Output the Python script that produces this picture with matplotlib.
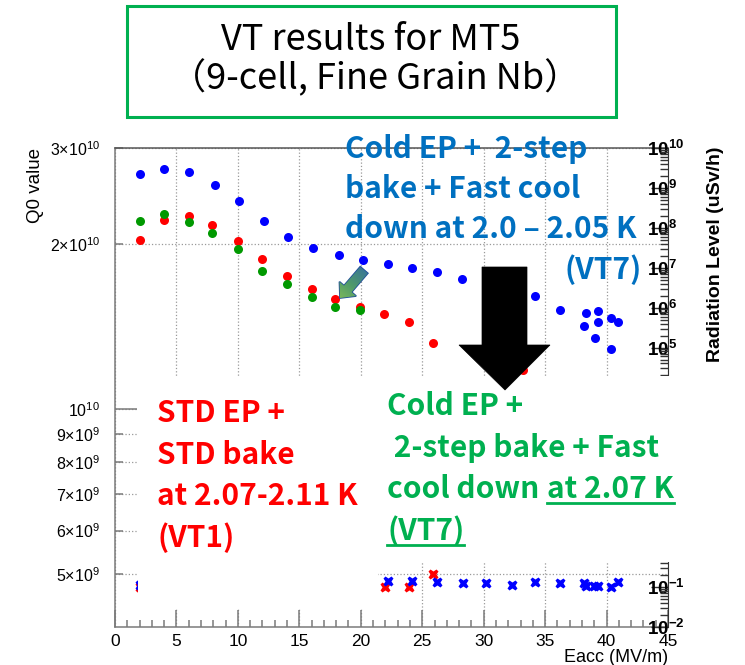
import numpy as np
import matplotlib
matplotlib.use('Agg')
import matplotlib.pyplot as plt
from matplotlib.ticker import FixedLocator, FixedFormatter, LogLocator, MultipleLocator, NullFormatter
from matplotlib.patches import Rectangle, Polygon
from matplotlib.colors import LinearSegmentedColormap

plt.rcParams['font.family'] = ['Liberation Sans', 'DejaVu Sans']
plt.rcParams['mathtext.fontset'] = 'custom'
plt.rcParams['mathtext.rm'] = 'Liberation Sans'
plt.rcParams['mathtext.it'] = 'Liberation Sans:italic'
plt.rcParams['mathtext.bf'] = 'Liberation Sans:bold'

# Q0 vs Eacc (MV/m)
eacc_vt1 = [2.0, 4.0, 6.0, 7.9, 10.0, 12.0, 14.0, 16.0, 17.9, 19.9, 21.9, 23.9, 25.9, 33.2]
q0_vt1 = [2.04e10, 2.22e10, 2.25e10, 2.17e10, 2.03e10, 1.88e10, 1.75e10, 1.66e10,
          1.59e10, 1.54e10, 1.49e10, 1.44e10, 1.32e10, 1.18e10]

eacc_vt7_207 = [2.0, 4.0, 6.0, 7.9, 10.0, 12.0, 14.0, 16.0, 17.9, 19.9]
q0_vt7_207 = [2.21e10, 2.27e10, 2.20e10, 2.10e10, 1.96e10, 1.79e10, 1.69e10, 1.60e10,
              1.54e10, 1.515e10]

eacc_vt7_200 = [2.0, 4.0, 6.0, 8.1, 10.1, 12.1, 14.1, 16.1, 18.2, 20.2, 22.2, 24.2, 26.2,
                28.2, 30.2, 32.3, 34.2, 36.2, 38.3, 39.3, 40.4, 40.9, 38.2, 39.3, 39.1, 40.4]
q0_vt7_200 = [2.69e10, 2.75e10, 2.71e10, 2.57e10, 2.40e10, 2.21e10, 2.06e10, 1.97e10,
              1.91e10, 1.87e10, 1.845e10, 1.81e10, 1.78e10, 1.73e10, 1.68e10, 1.65e10,
              1.61e10, 1.52e10, 1.50e10, 1.51e10, 1.47e10, 1.44e10, 1.42e10, 1.44e10,
              1.35e10, 1.29e10]

# radiation level (uSv/h)
eacc_rad_vt1 = [2.0, 22.0, 23.9, 25.9]
rad_vt1 = [0.10, 0.101, 0.101, 0.207]
eacc_rad_vt7 = [2.0, 22.2, 24.2, 26.2, 28.3, 30.2, 32.3, 34.2, 36.2, 38.2, 38.3, 39.0,
                39.3, 40.4, 40.9]
rad_vt7 = [0.11, 0.143, 0.141, 0.133, 0.123, 0.123, 0.116, 0.135, 0.127, 0.123, 0.105,
           0.105, 0.105, 0.101, 0.135]

q0_ticks = [5e9, 6e9, 7e9, 8e9, 9e9, 2e10, 3e10]
q0_ticklabels = [r'$5{\times}10^{9}$', r'$6{\times}10^{9}$', r'$7{\times}10^{9}$',
                 r'$8{\times}10^{9}$', r'$9{\times}10^{9}$', r'$2{\times}10^{10}$',
                 r'$3{\times}10^{10}$']
rad_exps = list(range(-2, 11))

BLUE = '#0000ff'
RED = '#ff0000'
GREEN = '#009900'
AXC = '#7a7a7a'

W, H = 745, 665
fig = plt.figure(figsize=(W / 100, H / 100), dpi=100)
fig.patch.set_facecolor('white')


def fx(px):
    return px / W


def fy(py):
    return 1 - py / H


ax = fig.add_axes([fx(115), fy(627), fx(668) - fx(115), fy(148) - fy(627)])
ax2 = ax.twinx()

ax.set_xlim(0, 45)
ax.set_yscale('log')
ax.set_ylim(4e9, 3e10)
ax.xaxis.set_major_locator(MultipleLocator(5))
ax.xaxis.set_minor_locator(MultipleLocator(1))
ax.yaxis.set_major_locator(FixedLocator([1e10]))
ax.yaxis.set_major_formatter(FixedFormatter([r'$10^{10}$']))
ax.yaxis.set_minor_locator(FixedLocator(q0_ticks))
ax.yaxis.set_minor_formatter(FixedFormatter(q0_ticklabels))
ax.tick_params(axis='both', which='both', direction='in', colors=AXC, labelcolor='black',
               width=1.1)
ax.tick_params(axis='y', which='both', labelsize=11.5)
ax.tick_params(axis='y', which='major', length=16, pad=11)
ax.tick_params(axis='y', which='minor', length=6, pad=11)
ax.tick_params(axis='x', which='major', length=12, pad=5, labelsize=12.5)
ax.tick_params(axis='x', which='minor', length=5)
ax.tick_params(right=False, top=False, which='both')
ax.grid(True, which='both', axis='y', ls=':', color='#999999', lw=0.9)
ax.grid(True, which='major', axis='x', ls=':', color='#999999', lw=0.9)
for s in ['left', 'bottom', 'top']:
    ax.spines[s].set_color(AXC)
    ax.spines[s].set_linewidth(1.1)
ax.spines['top'].set_color('#555555')
ax.spines['right'].set_visible(False)

ax.plot(eacc_vt1, q0_vt1, 'o', color=RED, ms=6.5, mec='none', zorder=3)
ax.plot(eacc_vt7_207, q0_vt7_207, 'o', color=GREEN, ms=6.5, mec='none', zorder=3)
ax.plot(eacc_vt7_200, q0_vt7_200, 'o', color=BLUE, ms=6.5, mec='none', zorder=3)

ax2.set_yscale('log')
ax2.set_ylim(1e-2, 1e10)
ax2.yaxis.set_major_locator(FixedLocator([10.0 ** k for k in rad_exps]))
ax2.yaxis.set_major_formatter(FixedFormatter([r'$\mathbf{10^{%d}}$' % k for k in rad_exps]))
ax2.yaxis.set_minor_locator(LogLocator(base=10, subs=np.arange(2, 10), numticks=200))
ax2.yaxis.set_minor_formatter(NullFormatter())
ax2.tick_params(axis='y', which='both', direction='in', colors='#333333', labelcolor='black',
                labelsize=13.5, width=1.0)
ax2.tick_params(axis='y', which='major', length=12, pad=-15)
ax2.tick_params(axis='y', which='minor', length=6)
for lab in ax2.get_yticklabels():
    lab.set_horizontalalignment('left')
for s in ['left', 'bottom', 'top']:
    ax2.spines[s].set_visible(False)
ax2.spines['right'].set_color('#333333')

ax2.plot(eacc_rad_vt1, rad_vt1, 'X', color=RED, ms=7.5, mec='none', zorder=3)
ax2.plot(eacc_rad_vt7, rad_vt7, 'X', color=BLUE, ms=7.5, mec='none', zorder=3)

fig.text(fx(35), fy(148), 'Q0 value', rotation=90, ha='center', va='top', fontsize=13.5)
fig.text(fx(716), fy(146), 'Radiation Level (uSv/h)', rotation=90, ha='center', va='top',
         fontsize=14, fontweight='bold')
fig.text(fx(668), fy(657), 'Eacc (MV/m)', ha='right', va='center', fontsize=13)

# slide overlay in pixel coordinates
ov = fig.add_axes([0, 0, 1, 1], zorder=5)
ov.axis('off')

ov.add_patch(Rectangle((138, 376), 240, 232, facecolor='white', edgecolor='none'))
ov.add_patch(Rectangle((378, 376), 317, 186, facecolor='white', edgecolor='none'))

ov.add_patch(Rectangle((127, 6), 489, 111, fill=False, edgecolor='#00b050', lw=2.2))
cjk = ['Noto Sans CJK JP', 'DejaVu Sans']
ov.text(371, 50, 'VT results for MT5', ha='center', va='baseline', fontsize=26, family=cjk)
ov.text(375, 89, '（9-cell, Fine Grain Nb）', ha='center', va='baseline', fontsize=26,
        family=cjk)

# big black arrow
ov.add_patch(Polygon([(482, 267), (527, 267), (527, 345), (550, 345), (505, 390),
                      (459, 345), (482, 345)], closed=True, facecolor='black',
                     edgecolor='black', lw=0.5))

# small gradient arrow
tail = np.array([364.0, 270.0])
tip = np.array([340.0, 298.0])
d = tip - tail
L = np.hypot(*d)
u = d / L
n = np.array([-u[1], u[0]])
neck = tip - u * 12
pts = [tail + n * 5, neck + n * 5, neck + n * 11, tip, neck - n * 11,
       neck - n * 5, tail - n * 5]
arrow = Polygon(pts, closed=True, facecolor='none', edgecolor='#1f4e9a', lw=1.2)
ov.add_patch(arrow)
gx, gy = np.meshgrid(np.linspace(325, 378, 60), np.linspace(260, 310, 60))
grad = ((gx - tail[0]) * u[0] + (gy - tail[1]) * u[1]) / L
cmap = LinearSegmentedColormap.from_list('bg', ['#2a5db8', '#4f9a6a', '#a6d44a'])
im = ov.imshow(grad, extent=[325, 378, 310, 260], origin='upper', cmap=cmap,
               aspect='auto', zorder=1)
im.set_clip_path(arrow)

bold = dict(family=cjk, fontweight='bold', fontsize=21.5, va='baseline')
BTXT = '#0070c0'
ov.text(345, 158, 'Cold EP +  2-step', color=BTXT, **bold)
ov.text(345, 198, 'bake + Fast cool', color=BTXT, **bold)
ov.text(345, 238, 'down at 2.0 – 2.05 K', color=BTXT, **bold)
ov.text(642, 279, '(VT7)', color=BTXT, ha='right', **bold)

RTXT = '#ff0000'
ov.text(157, 422, 'STD EP +', color=RTXT, **bold)
ov.text(157, 464, 'STD bake', color=RTXT, **bold)
ov.text(157, 505, 'at 2.07-2.11 K', color=RTXT, **bold)
ov.text(157, 547, '(VT1)', color=RTXT, **bold)

GTXT = '#00b050'
ov.text(387, 415, 'Cold EP +', color=GTXT, **bold)
ov.text(387, 457, ' 2-step bake + Fast', color=GTXT, **bold)
t1 = ov.text(387, 498, 'cool down', color=GTXT, **bold)
t4 = ov.text(387, 540, '(VT7)', color=GTXT, **bold)

ov.set_xlim(0, W)
ov.set_ylim(H, 0)

fig.canvas.draw()
r = fig.canvas.get_renderer()
inv = ov.transData.inverted()
b1 = t1.get_window_extent(r)
x_end = inv.transform((b1.x1, b1.y0))[0]
t2 = ov.text(x_end + 8, 498, 'at 2.07 K', color=GTXT, **bold)
fig.canvas.draw()
for t, yline in [(t2, 503), (t4, 545)]:
    bb = t.get_window_extent(r)
    xa = inv.transform((bb.x0, bb.y0))[0]
    xb = inv.transform((bb.x1, bb.y0))[0]
    ov.plot([xa, xb], [yline, yline], color=GTXT, lw=2)

ov.set_xlim(0, W)
ov.set_ylim(H, 0)

fig.savefig('out.png', dpi=100)
